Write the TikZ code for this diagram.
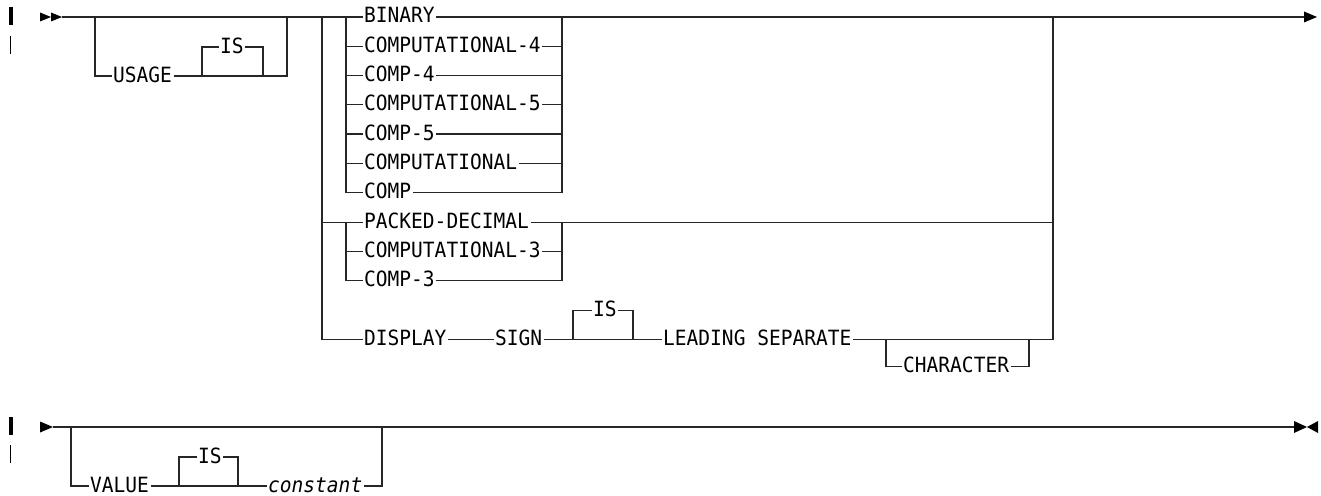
\documentclass[tikz,border=0pt]{standalone}
\usepackage{fontspec}
\newfontfamily\kwfont{DejaVu Sans Mono}[FakeStretch=0.93]
\begin{document}
\begin{tikzpicture}[x=1pt,y=1pt,
  rail/.style={line width=1.3pt,draw=black!85},
  kw/.style={font=\fontsize{21}{22}\selectfont\kwfont, inner xsep=1.5pt, inner ysep=0pt,
             text height=15pt, text depth=3pt, anchor=west, text=black},
  var/.style={kw, font=\fontsize{21}{22}\selectfont\kwfont\itshape},
  tipfill/.style={fill=black}]
\useasboundingbox (0,0) rectangle (1321,-495);

% ---------- row 1 ----------
\fill[tipfill] (9,-7) rectangle (13,-25);
\fill[tipfill] (9.8,-36) rectangle (11.2,-54);
\fill[tipfill] (40,-12.5) -- (51,-17) -- (40,-21.5) -- cycle;
\fill[tipfill] (51,-12.5) -- (62,-17) -- (51,-21.5) -- cycle;
\fill[tipfill] (1304,-11.5) -- (1317,-17) -- (1304,-22.5) -- cycle;
\coordinate (a1) at (62,-17);
\coordinate (z1) at (1304,-17);

% USAGE IS
\coordinate (uL) at (95,-17);
\coordinate (uR) at (287,-17);
\coordinate (i1L) at (202,-76);
\coordinate (i1R) at (263,-76);
\node[kw] (usage) at (111.5,-76) {USAGE};
\node[kw] (is1) at (218.5,-47) {IS};
\draw[rail] (uL) |- (usage.west);
\draw[rail] (usage.east) -- (i1L) -- (i1R) -| (uR);
\draw[rail] (i1L) |- (is1.west);
\draw[rail] (is1.east) -| (i1R);

% main choice
\coordinate (cL) at (322,-17);
\coordinate (cR) at (1053,-17);
\coordinate (gL) at (346,-17);
\coordinate (gR) at (562,-17);

\node[kw] (b1) at (362.5,-17) {BINARY};
\node[kw] (b2) at (362.5,-46.25) {COMPUTATIONAL-4};
\node[kw] (b3) at (362.5,-75.5) {COMP-4};
\node[kw] (b4) at (362.5,-104.75) {COMPUTATIONAL-5};
\node[kw] (b5) at (362.5,-134) {COMP-5};
\node[kw] (b6) at (362.5,-163.25) {COMPUTATIONAL};
\node[kw] (b7) at (362.5,-192.5) {COMP};

\draw[rail] (a1) -- (b1.west);
\draw[rail] (b1.east) -- (z1);
\foreach \n in {b2,b3,b4,b5,b6}{
  \draw[rail] (gL |- \n) -- (\n.west);
  \draw[rail] (\n.east) -- (gR |- \n);
}
\draw[rail] (gL) |- (b7.west);
\draw[rail] (b7.east) -| (gR);
\draw[rail] (cL) -- (cL |- b1);

% packed decimal group
\node[kw] (p1) at (362.5,-222.25) {PACKED-DECIMAL};
\node[kw] (p2) at (362.5,-251.5) {COMPUTATIONAL-3};
\node[kw] (p3) at (362.5,-280.75) {COMP-3};
\draw[rail] (cL |- p1) -- (p1.west);
\draw[rail] (p1.east) -- (cR |- p1);
\draw[rail] (gL |- p1) |- (p3.west);
\draw[rail] (gL |- p2) -- (p2.west);
\draw[rail] (p2.east) -- (gR |- p2);
\draw[rail] (p3.east) -| (gR |- p1);

% display group
\node[kw] (disp) at (362.5,-339.5) {DISPLAY};
\node[kw] (sign) at (493.5,-339.5) {SIGN};
\node[kw] (is3) at (591.5,-310.5) {IS};
\node[kw] (lead) at (661.5,-339.5) {LEADING SEPARATE};
\node[kw] (char) at (901.5,-366.75) {CHARACTER};
\coordinate (i3L) at (573,-339.5);
\coordinate (i3R) at (633,-339.5);
\coordinate (chL) at (886,-339.5);
\coordinate (chR) at (1029,-339.5);
\draw[rail] (cL) |- (disp.west);
\draw[rail] (disp.east) -- (sign.west);
\draw[rail] (sign.east) -- (lead.west);
\draw[rail] (i3L) |- (is3.west);
\draw[rail] (is3.east) -| (i3R);
\draw[rail] (lead.east) -| (cR);
\draw[rail] (chL) |- (char.west);
\draw[rail] (char.east) -| (chR);

% ---------- row 2 ----------
\fill[tipfill] (9,-417) rectangle (13,-435);
\fill[tipfill] (9.8,-445) rectangle (11.2,-463);
\fill[tipfill] (40,-421.5) -- (53,-427) -- (40,-432.5) -- cycle;
\fill[tipfill] (1294,-421) -- (1307,-427) -- (1294,-433) -- cycle;
\fill[tipfill] (1318,-421) -- (1307,-427) -- (1318,-433) -- cycle;
\coordinate (a2) at (53,-427);
\coordinate (z2) at (1294,-427);
\draw[rail] (a2) -- (z2);

\coordinate (vL) at (71,-427);
\coordinate (vR) at (382,-427);
\coordinate (i4L) at (179,-486);
\coordinate (i4R) at (238,-486);
\node[kw] (value) at (88.5,-486) {VALUE};
\node[kw] (is4) at (196.5,-457) {IS};
\node[var] (const) at (266.5,-486) {constant};
\draw[rail] (vL) |- (value.west);
\draw[rail] (value.east) -- (i4L) -- (i4R) -- (const.west);
\draw[rail] (i4L) |- (is4.west);
\draw[rail] (is4.east) -| (i4R);
\draw[rail] (const.east) -| (vR);
\end{tikzpicture}
\end{document}
